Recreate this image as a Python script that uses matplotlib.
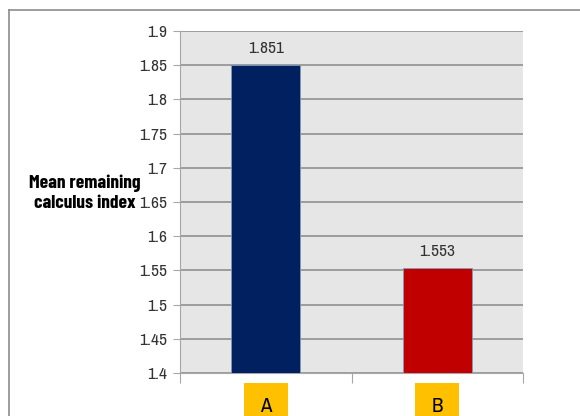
import matplotlib
matplotlib.use("Agg")
import matplotlib.pyplot as plt
from matplotlib.patches import Rectangle
from matplotlib.transforms import blended_transform_factory
from matplotlib import font_manager

categories = ["A", "B"]
values = [1.851, 1.553]
bar_colors = ["#002060", "#C00000"]
yticks = [1.4, 1.45, 1.5, 1.55, 1.6, 1.65, 1.7, 1.75, 1.8, 1.85, 1.9]
ytick_labels = ["1.4", "1.45", "1.5", "1.55", "1.6", "1.65", "1.7", "1.75", "1.8", "1.85", "1.9"]
value_labels = ["1.851", "1.553"]
ylabel = "Mean remaining\ncalculus index"

entries = font_manager.fontManager.ttflist
names = {f.name for f in entries}
fam = "Liberation Sans"
for cand in ["Liberation Sans Narrow", "Archivo Narrow", "Barlow Semi Condensed"]:
    if cand in names:
        fam = cand
        break
bold_fam, bold_size = fam, 12.5
for cand, sz in [("Barlow Condensed", 14.0), ("Liberation Sans Narrow", 13.0), ("Barlow Semi Condensed", 12.5)]:
    if any(f.name == cand and f.weight in (700, "bold") for f in entries):
        bold_fam, bold_size = cand, sz
        break
plt.rcParams["font.family"] = [fam, "DejaVu Sans"]

W, H = 580, 416
fig = plt.figure(figsize=(W / 100, H / 100), dpi=100)
fig.patch.set_facecolor("white")

# outer frame
fig.add_artist(plt.Line2D([9 / W, 1], [1 - 10 / H, 1 - 10 / H], color="#8c8c8c", lw=1.2, transform=fig.transFigure))
fig.add_artist(plt.Line2D([9 / W, 9 / W], [1 - 10 / H, 0], color="#8c8c8c", lw=1.2, transform=fig.transFigure))

left, right, top, bottom = 180, 523, 31, 373
ax = fig.add_axes([left / W, 1 - bottom / H, (right - left) / W, (bottom - top) / H])
ax.set_facecolor("#e6e6e6")
x = list(range(len(categories)))
ax.bar(x, values, width=0.40, color=bar_colors, edgecolor="#7f9cb8", linewidth=0.6, zorder=3)
ax.set_xlim(-0.5, len(categories) - 0.5)
ax.set_ylim(1.4, 1.9)
ax.set_yticks(yticks)
ax.set_yticklabels(ytick_labels, fontsize=12.5, color="#333333")
ax.yaxis.grid(True, color="#909090", lw=1.2, zorder=1)
ax.set_axisbelow(True)
for s in ["top", "right"]:
    ax.spines[s].set_visible(False)
ax.spines["left"].set_color("#a6a6a6")
ax.spines["bottom"].set_color("#a6a6a6")
ax.tick_params(axis="y", length=5, color="#a6a6a6", pad=4)
ax.set_xticks([-0.5, 0.5, 1.5])
ax.set_xticklabels([])
ax.tick_params(axis="x", length=7, color="#a6a6a6")

for xi, v, lab in zip(x, values, value_labels):
    ax.text(xi, v + 0.013, lab, ha="center", va="bottom", fontsize=12.5, color="#333333")

tr = blended_transform_factory(ax.transData, fig.transFigure)
bw = 44 / ((right - left) / len(categories))
for xi, c in zip(x, categories):
    ax.add_patch(Rectangle((xi - bw / 2, -0.05), bw, 1 - 383 / H + 0.05, transform=tr,
                           facecolor="#FFC000", edgecolor="none", clip_on=False))
    ax.text(xi, 1 - 397 / H, c, transform=tr, ha="center", va="top", fontsize=15, color="black")

fig.text(85 / W, 1 - 193 / H, ylabel, ha="center", va="center", fontsize=bold_size,
         fontweight="bold", family=[bold_fam, "DejaVu Sans"], linespacing=1.2, color="black")

fig.savefig("out.png", dpi=100)
